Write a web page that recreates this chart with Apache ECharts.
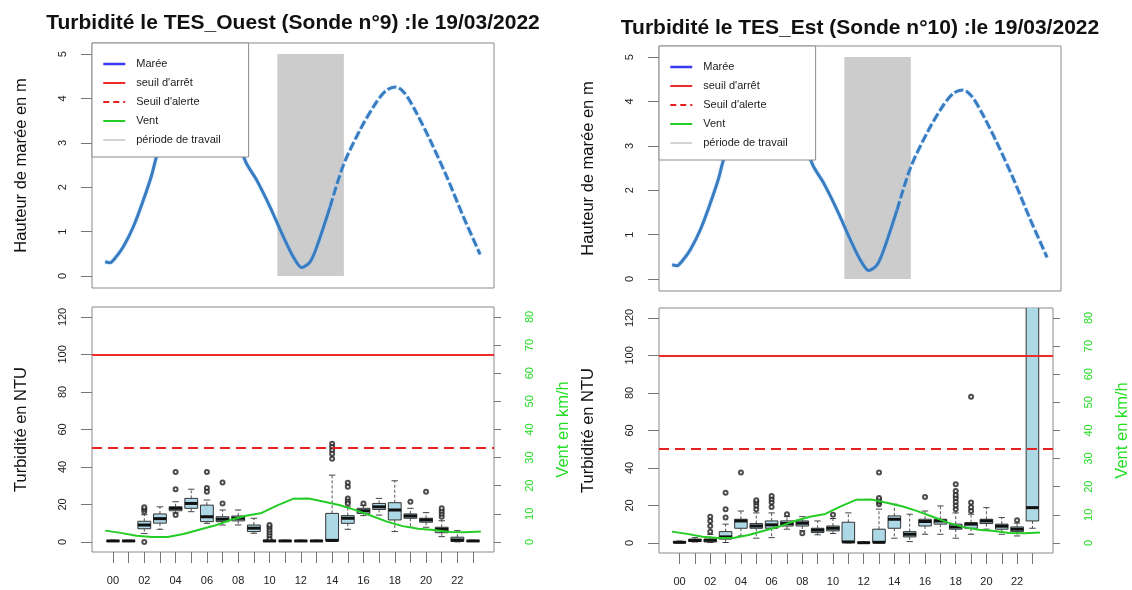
<!DOCTYPE html>
<html><head><meta charset="utf-8">
<script src="https://cdn.jsdelivr.net/npm/echarts@6/dist/echarts.min.js"></script>
<style>html,body{margin:0;padding:0;background:#fff}#c{width:1132px;height:590px}</style>
</head><body><div id="c"></div>
<script>
// ---------- DATA ----------
const hourLabels = ['00','01','02','03','04','05','06','07','08','09','10','11','12','13','14','15','16','17','18','19','20','21','22','23'];

// Tide (hours of day, metres)
const tideTimes   = [0.0, 0.31, 0.63, 1.16, 1.80, 2.44, 2.97, 3.29, 4.0, 5.0, 6.0, 7.0, 8.0, 8.98, 9.68, 10.53, 11.38, 12.02, 12.56, 13.09, 13.52, 14.37, 15.22, 16.28, 17.35, 17.99, 18.58, 19.16, 19.91, 20.76, 21.82, 22.88, 23.95];
const tideHeights = [0.32, 0.30, 0.40, 0.66, 1.11, 1.71, 2.27, 2.69, 3.3, 4.0, 4.35, 4.2, 3.5, 2.57, 2.16, 1.56, 0.89, 0.43, 0.19, 0.32, 0.66, 1.56, 2.50, 3.29, 3.93, 4.19, 4.26, 4.11, 3.66, 3.06, 2.24, 1.34, 0.49];
const workPeriod = [11.0, 15.25];

// Thresholds (NTU)
const stopThreshold = 100;
const alertThreshold = 50;

// Wind (km/h), hourly
const windTimes = [0,1,2,3,4,5,6,7,8,9,10,11,12,13,14,15,16,17,18,19,20,21,22,23,24];
const windKmh   = [4.0,3.2,2.2,1.7,1.7,2.8,4.3,5.8,7.8,9.3,10.3,13.0,15.3,15.4,14.3,13.0,11.3,9.3,7.2,5.6,4.7,4.2,3.5,3.4,3.7];

// Turbidity box statistics, TES_Ouest (Sonde n°9)
const ouestLow  = [0.2,0.2,4.5,6.7,15.5,16.1,9.9,9.0,9.0,4.6,0.2,0.2,0.2,0.2,0.2,6.7,14.0,14.3,5.5,7.8,7.8,2.8,0.0,0.2];
const ouestQ1   = [0.3,0.3,7.0,10.0,16.6,17.9,10.8,10.8,11.2,5.5,0.3,0.3,0.3,0.3,0.5,9.9,15.2,17.3,11.7,12.6,10.5,4.9,0.2,0.3];
const ouestMed  = [0.5,0.5,9.0,12.4,17.9,20.5,13.4,12.1,12.6,7.3,0.5,0.5,0.5,0.5,0.8,12.6,16.6,18.7,17.0,13.8,11.7,6.7,1.0,0.5];
const ouestQ3   = [0.7,0.7,11.0,14.9,18.7,23.2,19.6,13.4,13.8,9.0,0.8,0.7,0.7,0.7,15.2,14.0,17.9,20.5,20.9,14.9,12.6,7.8,2.5,0.7];
const ouestHigh = [0.9,0.9,14.5,18.7,21.4,28.1,22.3,17.0,17.0,12.6,1.2,0.9,0.9,0.9,35.6,18.7,19.5,23.2,32.6,17.9,15.6,11.3,6.0,0.9];
const ouestOutliers = [[2,16.2],[2,17.5],[2,18.5],[2,0.0],[4,37.3],[4,28.1],[4,14.3],[6,37.3],[6,28.8],[6,26.7],[7,31.7],[7,20.5],
  [10,2.0],[10,3.5],[10,5.0],[10,6.5],[10,8.0],[10,9.0],[14,52.4],[14,50.6],[14,48.9],[14,47.0],[14,44.4],
  [15,31.5],[15,29.4],[15,23.2],[15,21.5],[15,20.5],[16,20.5],[19,21.4],[20,26.7],[21,13.4],[21,15.0],[21,16.5],[21,18.0]];

// Turbidity box statistics, TES_Est (Sonde n°10)
const estLow  = [0.0,0.5,0.2,0.2,3.7,2.5,2.8,7.3,6.5,4.3,5.0,0.0,0.0,0.0,2.5,0.7,4.6,4.6,2.5,4.6,7.3,4.6,3.7,7.8];
const estQ1   = [0.1,0.7,0.5,2.0,7.8,7.8,7.8,9.0,9.0,5.5,6.4,0.2,0.0,0.2,7.8,3.2,9.0,10.0,7.3,7.8,10.3,7.3,6.0,11.7];
const estMed  = [0.3,1.3,1.4,3.2,11.7,9.0,9.6,10.3,10.5,6.8,7.8,0.5,0.1,0.3,12.6,4.6,11.4,11.7,8.5,10.0,11.7,8.9,7.3,18.8];
const estQ3   = [0.7,2.0,2.0,6.0,12.6,10.3,11.7,11.7,11.7,7.8,9.0,11.0,0.3,7.3,14.4,6.0,12.6,12.6,10.0,10.8,12.6,10.0,8.5,250];
const estHigh = [1.0,2.8,4.5,10.0,17.0,16.0,16.0,14.0,14.0,11.7,13.0,16.0,0.5,18.0,20.6,15.3,17.0,19.7,16.0,15.3,18.8,13.5,10.5,500];
const estOutliers = [[2,6.0],[2,9.0],[2,11.7],[2,13.9],[3,13.5],[3,18.0],[3,26.8],[4,37.5],[5,18.0],[5,20.0],[5,21.7],[5,22.8],
  [6,19.2],[6,21.7],[6,23.4],[6,25.0],[7,15.3],[8,5.2],[10,15.0],[13,20.6],[13,22.0],[13,23.0],[13,24.0],[13,37.5],
  [16,24.5],[18,18.0],[18,20.0],[18,22.0],[18,24.0],[18,25.5],[18,27.7],[18,31.3],[19,17.0],[19,19.0],[19,21.5],[19,77.9],[22,12.1]];

// Axis tick values
const tideTicks = [0,1,2,3,4,5];
const ntuTicks  = [0,20,40,60,80,100,120];
const windTicks = [0,10,20,30,40,50,60,70,80];

// ---------- STYLE / LAYOUT ----------
const FONT = "'Liberation Sans', Arial, sans-serif";
const X_MIN = -0.84, X_MAX = 24.84;
const panels = [
  {title:'Turbidité le TES_Ouest (Sonde n°9) :le 19/03/2022', left:92, topTop:43, botTop:307, titleY:23,
   low:ouestLow,q1:ouestQ1,med:ouestMed,q3:ouestQ3,high:ouestHigh,out:ouestOutliers},
  {title:'Turbidité le TES_Est (Sonde n°10) :le 19/03/2022', left:659, topTop:46, botTop:308, titleY:28,
   low:estLow,q1:estQ1,med:estMed,q3:estQ3,high:estHigh,out:estOutliers}
];

const tidePts = tideTimes.map((t,i)=>[t, tideHeights[i]]);
const splitIdx = tideTimes.indexOf(14.37);
const tideSolid = tidePts.slice(0, splitIdx + 1);
const tideDashed = tidePts.slice(splitIdx);
const windPts = windTimes.map((t,i)=>[t, windKmh[i]]);

function boxRender(params, api) {
  const t = api.value(0);
  const p = k => api.coord([t, api.value(k)]);
  const lo = p(1), q1 = p(2), md = p(3), q3 = p(4), hi = p(5);
  const w = api.size([0.82, 0])[0];
  const x = lo[0];
  const dash = {stroke:'#555', lineWidth:1, lineDash:[3,2]};
  const solid = {stroke:'#444', lineWidth:1};
  return {type:'group', children:[
    {type:'line', shape:{x1:x,y1:q3[1],x2:x,y2:hi[1]}, style:dash},
    {type:'line', shape:{x1:x,y1:q1[1],x2:x,y2:lo[1]}, style:dash},
    {type:'line', shape:{x1:x-w/4,y1:hi[1],x2:x+w/4,y2:hi[1]}, style:solid},
    {type:'line', shape:{x1:x-w/4,y1:lo[1],x2:x+w/4,y2:lo[1]}, style:solid},
    {type:'rect', shape:{x:x-w/2,y:q3[1],width:w,height:Math.max(q1[1]-q3[1],0.5)}, style:{fill:'#add8e6',stroke:'#333',lineWidth:1}},
    {type:'line', shape:{x1:x-w/2,y1:md[1],x2:x+w/2,y2:md[1]}, style:{stroke:'#111',lineWidth:3}}
  ]};
}

const grid = [], xAxis = [], yAxis = [], series = [], legend = [], graphic = [];
const tickLbl = {fontFamily:FONT, fontSize:11, color:'#222'};
const nameSt = {fontFamily:FONT, fontSize:16.5, color:'#111'};

panels.forEach((P, k) => {
  const gTop = grid.length, gBot = gTop + 1;
  grid.push({left:P.left, top:P.topTop, width:402, height:245, show:true, borderColor:'#8a8a8a', borderWidth:1, backgroundColor:'transparent'});
  grid.push({left:P.left, top:P.botTop, width:402, height:245, show:true, borderColor:'#8a8a8a', borderWidth:1, backgroundColor:'transparent'});
  const xTop = xAxis.length, xBot = xTop + 1;
  xAxis.push({type:'value', gridIndex:gTop, min:X_MIN, max:X_MAX, show:false, splitLine:{show:false}, axisLine:{onZero:false}});
  xAxis.push({type:'value', gridIndex:gBot, min:X_MIN, max:X_MAX, splitLine:{show:false}, axisLine:{show:false, onZero:false},
    axisTick:{show:true, length:11, lineStyle:{color:'#777'}, customValues: hourLabels.map((h,i)=>i+0.5)},
    axisLabel:{...tickLbl, margin:23, customValues: hourLabels.map((h,i)=>i+0.5).filter((v,i)=>i%2===0),
      formatter: v => hourLabels[Math.floor(v)]}});
  const yTide = yAxis.length, yNtu = yTide + 1, yWind = yTide + 2;
  yAxis.push({type:'value', gridIndex:gTop, min:-0.27, max:5.25, splitLine:{show:false}, axisLine:{show:false, onZero:false},
    axisTick:{show:true, length:11, lineStyle:{color:'#777'}, customValues: tideTicks},
    axisLabel:{...tickLbl, rotate:90, margin:24, customValues: tideTicks},
    name:'Hauteur de marée en m', nameLocation:'middle', nameGap:62, nameTextStyle:nameSt});
  yAxis.push({type:'value', gridIndex:gBot, min:-5.4, max:125.3, splitLine:{show:false}, axisLine:{show:false, onZero:false},
    axisTick:{show:true, length:11, lineStyle:{color:'#777'}, customValues: ntuTicks},
    axisLabel:{...tickLbl, rotate:90, margin:24, customValues: ntuTicks},
    name:'Turbidité en NTU', nameLocation:'middle', nameGap:62, nameTextStyle:nameSt});
  yAxis.push({type:'value', gridIndex:gBot, position:'right', min:-3.6, max:83.53, splitLine:{show:false}, axisLine:{show:false, onZero:false},
    axisTick:{show:true, length:7, lineStyle:{color:'#777'}, customValues: windTicks},
    axisLabel:{...tickLbl, color:'#22dd22', rotate:90, margin:30, customValues: windTicks},
    name:'Vent en km/h', nameLocation:'middle', nameGap:61, nameTextStyle:{...nameSt, color:'#22dd22'}});

  series.push({name:'période de travail', type:'line', xAxisIndex:xTop, yAxisIndex:yTide, data:[], z:1, symbol:'none',
    lineStyle:{color:'#d3d3d3', width:5}, itemStyle:{color:'#d3d3d3'},
    markArea:{silent:true, itemStyle:{color:'#cccccc', opacity:1},
      data:[[{xAxis:workPeriod[0], yAxis:tideTicks[0]}, {xAxis:workPeriod[1], yAxis:tideTicks[tideTicks.length-1]}]]}});
  const tideLine = {color:'#3a7cc0', width:3, shadowColor:'rgba(150,205,255,0.8)', shadowBlur:2};
  series.push({name:'Marée', type:'line', xAxisIndex:xTop, yAxisIndex:yTide, data:tideSolid, smooth:0.3, symbol:'none', z:3,
    lineStyle:tideLine, itemStyle:{color:'#3a7cc0'}});
  series.push({name:'Marée', type:'line', xAxisIndex:xTop, yAxisIndex:yTide, data:tideDashed, smooth:0.3, symbol:'none', z:3,
    lineStyle:{...tideLine, type:[9,3]}, itemStyle:{color:'#3a7cc0'}});
  series.push({name:"seuil d'arrêt", type:'line', xAxisIndex:xBot, yAxisIndex:yNtu, data:[], symbol:'none',
    lineStyle:{color:'#ee2b2b', width:2}, itemStyle:{color:'#ee2b2b'},
    markLine:{silent:true, symbol:'none', label:{show:false}, lineStyle:{color:'#ee2b2b', width:2, type:'solid'}, data:[{yAxis:stopThreshold}]}});
  series.push({name:"Seuil d'alerte", type:'line', xAxisIndex:xBot, yAxisIndex:yNtu, data:[], symbol:'none',
    lineStyle:{color:'#e62020', width:2, type:[6,4]}, itemStyle:{color:'#e62020'},
    markLine:{silent:true, symbol:'none', label:{show:false}, lineStyle:{color:'#e62020', width:2, type:[10,6]}, data:[{yAxis:alertThreshold}]}});
  series.push({name:'boxes', type:'custom', xAxisIndex:xBot, yAxisIndex:yNtu, clip:true, z:3,
    renderItem:boxRender, encode:{x:0, y:[1,2,3,4,5]},
    data: hourLabels.map((h,i)=>[i+0.5, P.low[i], P.q1[i], P.med[i], P.q3[i], P.high[i]])});
  series.push({name:'outliers', type:'scatter', xAxisIndex:xBot, yAxisIndex:yNtu, z:4, symbol:'emptyCircle', symbolSize:4,
    itemStyle:{color:'#222', borderWidth:1.2}, data: P.out.map(o=>[o[0]+0.5, o[1]])});
  series.push({name:'Vent', type:'line', xAxisIndex:xBot, yAxisIndex:yWind, data:windPts, symbol:'none', z:5,
    lineStyle:{color:'#25cc25', width:2}, itemStyle:{color:'#25cc25'}});

  legend.push({left:P.left, top:P.topTop, orient:'vertical', backgroundColor:'#fff', borderColor:'#8a8a8a', borderWidth:1,
    padding:[14,28,10,10], itemGap:5, itemWidth:22, itemHeight:10, selectedMode:false, z:10,
    itemStyle:{opacity:0, borderWidth:0},
    textStyle:{fontFamily:FONT, fontSize:11, color:'#222', lineHeight:14, padding:[0,0,0,6]},
    data:[{name:'Marée', lineStyle:{color:'#3a3af0', width:2.5}, itemStyle:{color:'#3a3af0', opacity:0}},
          {name:"seuil d'arrêt"}, {name:"Seuil d'alerte"}, {name:'Vent'}, {name:'période de travail'}]});

  graphic.push({type:'text', x:P.left + 201, y:P.titleY, style:{text:P.title, font:"bold 21px 'Liberation Sans', Arial, sans-serif",
    fill:'#111', textAlign:'center', textVerticalAlign:'middle'}});
});

const chart = echarts.init(document.getElementById('c'), null, {renderer:'canvas'});
chart.setOption({animation:false, backgroundColor:'#fff', grid, xAxis, yAxis, series, legend, graphic, tooltip:{show:false}});
</script></body></html>
